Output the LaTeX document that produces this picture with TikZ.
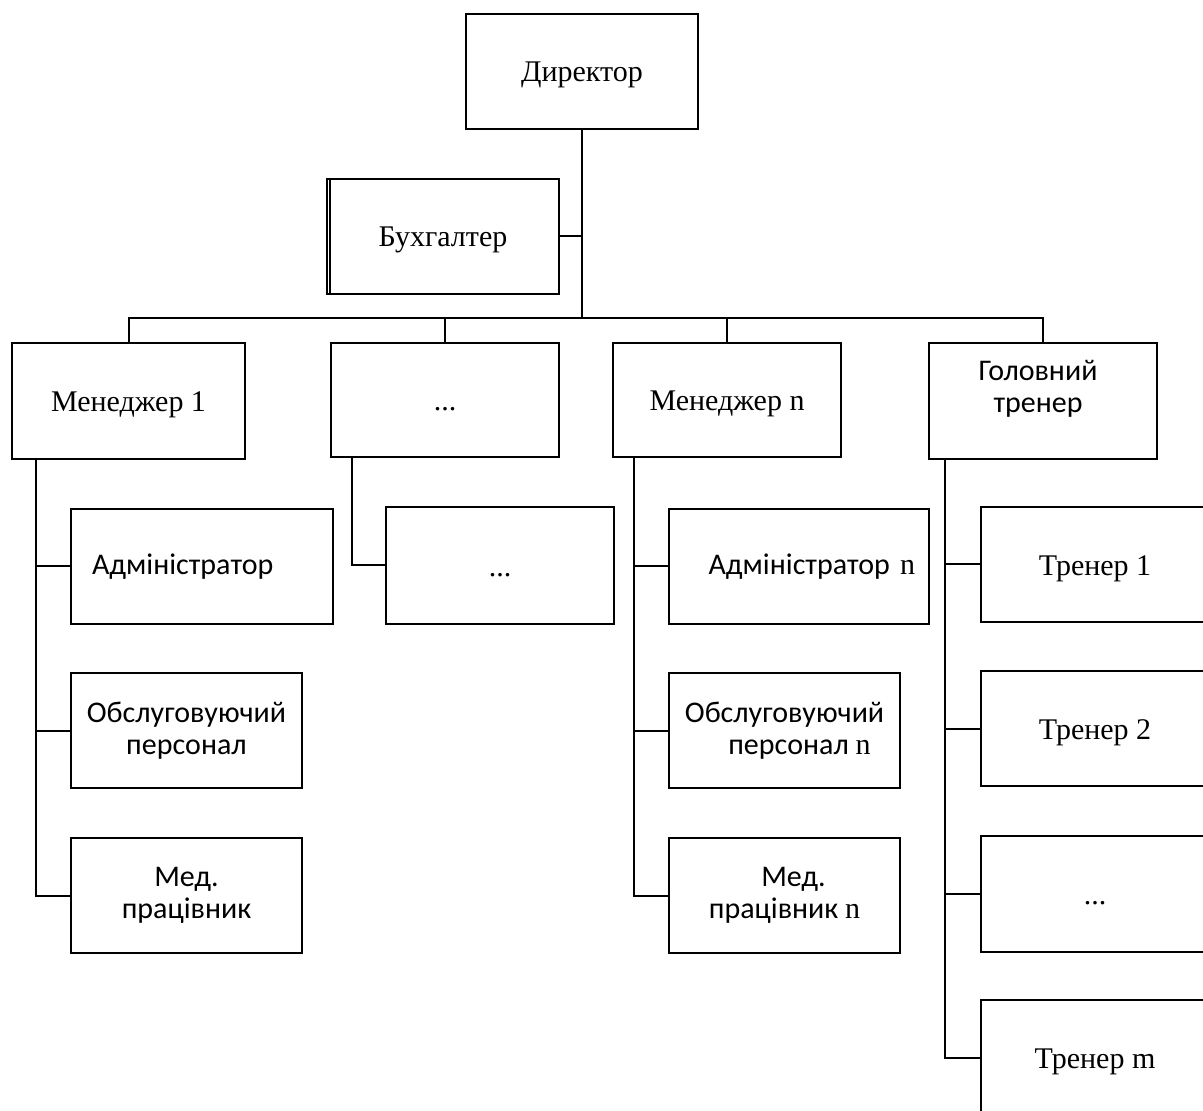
\documentclass[tikz,border=0pt]{standalone}
\usepackage{fontspec}
\setmainfont{Liberation Serif}
\newfontfamily\calibri{Carlito}
\tikzset{
  box/.style={draw, line width=1pt, minimum height=57.5pt, inner sep=1pt, align=center},
  serifbox/.style={box, font=\fontsize{15}{17}\selectfont, text height=14pt, text depth=3.5pt},
  sanstext/.style={font=\calibri\fontsize{15}{16}\selectfont, align=center},
  sansbox/.style={box, sanstext},
  link/.style={line width=1pt},
}
\begin{document}
\begin{tikzpicture}[x=0.5pt,y=-0.5pt]
	\clip (0,0) rectangle (1203,1111);
	% top
	\node[serifbox, minimum width=116pt] (dir) at (582,71.5) {Директор};
	\node[serifbox, minimum width=116pt] (buh) at (443,236.5) {Бухгалтер};
	\draw[link] ([xshift=2pt]buh.north west) -- ([xshift=2pt]buh.south west);
	% managers
	\node[serifbox, minimum width=116.5pt, minimum height=58pt] (m1) at (128.5,401) {Менеджер 1};
	\node[serifbox, minimum width=114pt, minimum height=57pt] (dots1) at (445,400) {...};
	\node[serifbox, minimum width=114pt, minimum height=57pt] (mn) at (727,400) {Менеджер n};
	\node[box, minimum width=114pt, minimum height=58pt,
		label={[sanstext, xshift=-2.5pt, yshift=6pt]center:{Головний\\тренер}}] (ht) at (1043,401) {};
	% staff of manager 1
	\node[sansbox, minimum width=131pt, text width=110pt, inner xsep=10.5pt, align=left] (adm) at (202,566.5) {Адміністратор};
	\node[sansbox, minimum width=115.5pt] (obs) at (186.5,730.5) {Обслуговуючий\\персонал};
	\node[sansbox, minimum width=115.5pt] (med) at (186.5,895.5) {Мед.\\працівник};
	\node[serifbox, minimum width=114pt, minimum height=58.5pt] (dots2) at (500,565.5) {...};
	% staff of manager n
	\node[sansbox, minimum width=130pt, text width=116pt, inner xsep=7pt, align=right] (admn) at (799,566.5) {Адміністратор {\rmfamily n}};
	\node[sansbox, minimum width=115.5pt] (obsn) at (784.5,730.5) {Обслуговуючий\\\quad персонал {\rmfamily n}};
	\node[sansbox, minimum width=115.5pt] (medn) at (784.5,895.5) {\hspace*{9pt}Мед.\\працівник {\rmfamily n}};
	% trainers
	\node[serifbox, minimum width=114pt] (tr1) at (1095,564.5) {Тренер 1};
	\node[serifbox, minimum width=114pt] (tr2) at (1095,728.5) {Тренер 2};
	\node[serifbox, minimum width=114pt, minimum height=58pt] (dots3) at (1095,894) {...};
	\node[serifbox, minimum width=114pt] (trm) at (1095,1057.5) {Тренер m};
	% links
	\coordinate (bus) at (582,318);
	\draw[link] (dir.south) -- (bus);
	\draw[link] (buh.east) -- (buh.east -| bus);
	\draw[link] (m1.north) |- (bus) -| (ht.north);
	\draw[link] (dots1.north) -- (dots1.north |- bus);
	\draw[link] (mn.north) -- (mn.north |- bus);
	\draw[link] (m1.south west) ++(25,0) coordinate (s1) |- (med.west);
	\foreach \b in {adm,obs}
		\draw[link] (\b.west) -- (\b.west -| s1);
	\draw[link] (dots1.south west) ++(22,0) |- (dots2.west);
	\draw[link] (mn.south west) ++(22,0) coordinate (s3) |- (medn.west);
	\foreach \b in {admn,obsn}
		\draw[link] (\b.west) -- (\b.west -| s3);
	\draw[link] (ht.south west) ++(17,0) coordinate (s4) |- (trm.west);
	\foreach \b in {tr1,tr2,dots3}
		\draw[link] (\b.west) -- (\b.west -| s4);
\end{tikzpicture}
\end{document}
